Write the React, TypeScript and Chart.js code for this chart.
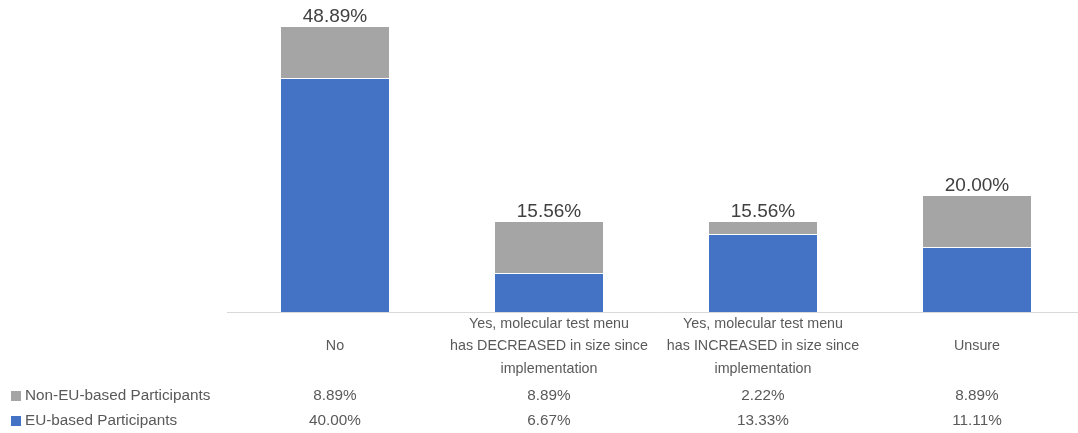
import React, { useEffect, useRef } from "react";
import { Chart, registerables } from "chart.js";

Chart.register(...registerables);

const categories: string[][] = [
  ["No"],
  ["Yes, molecular test menu", "has DECREASED in size since", "implementation"],
  ["Yes, molecular test menu", "has INCREASED in size since", "implementation"],
  ["Unsure"],
];
const euLabel = "EU-based Participants";
const nonEuLabel = "Non-EU-based Participants";
const euValues = [40.0, 6.67, 13.33, 11.11];
const nonEuValues = [8.89, 8.89, 2.22, 8.89];
const totals = [48.89, 15.56, 15.56, 20.0];

const BLUE = "#4472C4";
const GRAY = "#A5A5A5";
const TEXT = "#595959";
const FONT = "'Liberation Sans', Arial, sans-serif";

const tablePlugin = {
  id: "tablePlugin",
  afterDatasetsDraw(chart: any) {
    const ctx = chart.ctx;
    const x = chart.scales.x;
    const y = chart.scales.y;
    const area = chart.chartArea;
    ctx.save();
    // axis line
    ctx.strokeStyle = "#D9D9D9";
    ctx.lineWidth = 1;
    ctx.beginPath();
    ctx.moveTo(227, Math.round(area.bottom) + 0.5);
    ctx.lineTo(chart.width, Math.round(area.bottom) + 0.5);
    ctx.stroke();

    // totals above bars
    ctx.fillStyle = "#404040";
    ctx.font = `19px ${FONT}`;
    ctx.textAlign = "center";
    ctx.textBaseline = "alphabetic";
    totals.forEach((t, i) => {
      const px = x.getPixelForValue(i);
      const py = y.getPixelForValue(t);
      ctx.fillText(t.toFixed(2) + "%", px, py - 4);
    });

    // category labels
    ctx.fillStyle = TEXT;
    ctx.font = `14.3px ${FONT}`;
    ctx.textBaseline = "middle";
    const lh = 22.5;
    const mid = 346.5;
    categories.forEach((lines, i) => {
      const px = x.getPixelForValue(i);
      const start = mid - ((lines.length - 1) * lh) / 2;
      lines.forEach((ln, j) => ctx.fillText(ln, px, start + j * lh));
    });

    // value rows
    const rows = [
      { name: nonEuLabel, color: GRAY, vals: nonEuValues, y: 396 },
      { name: euLabel, color: BLUE, vals: euValues, y: 421 },
    ];
    rows.forEach((r) => {
      ctx.fillStyle = r.color;
      ctx.fillRect(11, r.y - 5, 10, 10);
      ctx.fillStyle = TEXT;
      ctx.font = `15.3px ${FONT}`;
      ctx.textAlign = "left";
      ctx.fillText(r.name, 25, r.y);
      ctx.textAlign = "center";
      ctx.font = `15.3px ${FONT}`;
      r.vals.forEach((v, i) => {
        ctx.fillText(v.toFixed(2) + "%", x.getPixelForValue(i), r.y);
      });
    });
    ctx.restore();
  },
};

export default function App() {
  const ref = useRef<HTMLCanvasElement | null>(null);
  useEffect(() => {
    if (!ref.current) return;
    const chart = new Chart(ref.current, {
      type: "bar",
      data: {
        labels: categories.map((c) => c.join(" ")),
        datasets: [
          {
            label: euLabel,
            data: euValues,
            backgroundColor: BLUE,
            borderColor: "rgba(255,255,255,0.45)",
            borderWidth: 1,
            barPercentage: 1,
            categoryPercentage: 0.514,
          },
          {
            label: nonEuLabel,
            data: nonEuValues,
            backgroundColor: GRAY,
            borderColor: "rgba(255,255,255,0.45)",
            borderWidth: 1,
            barPercentage: 1,
            categoryPercentage: 0.514,
          },
        ],
      },
      options: {
        responsive: false,
        animation: false,
        layout: { padding: { left: 228, right: 6, top: 19.5, bottom: 121 } },
        plugins: {
          legend: { display: false },
          tooltip: { enabled: false },
        },
        scales: {
          x: { display: false, stacked: true },
          y: { display: false, stacked: true, min: 0, max: 50 },
        },
      },
      plugins: [tablePlugin],
    });
    return () => chart.destroy();
  }, []);
  return (
    <div
      style={{
        position: "fixed",
        left: 0,
        top: 0,
        width: 1078,
        height: 433,
        overflow: "hidden",
        background: "#fff",
      }}
    >
      <canvas ref={ref} width={1090} height={433} style={{ width: 1090, height: 433, display: "block" }} />
    </div>
  );
}
